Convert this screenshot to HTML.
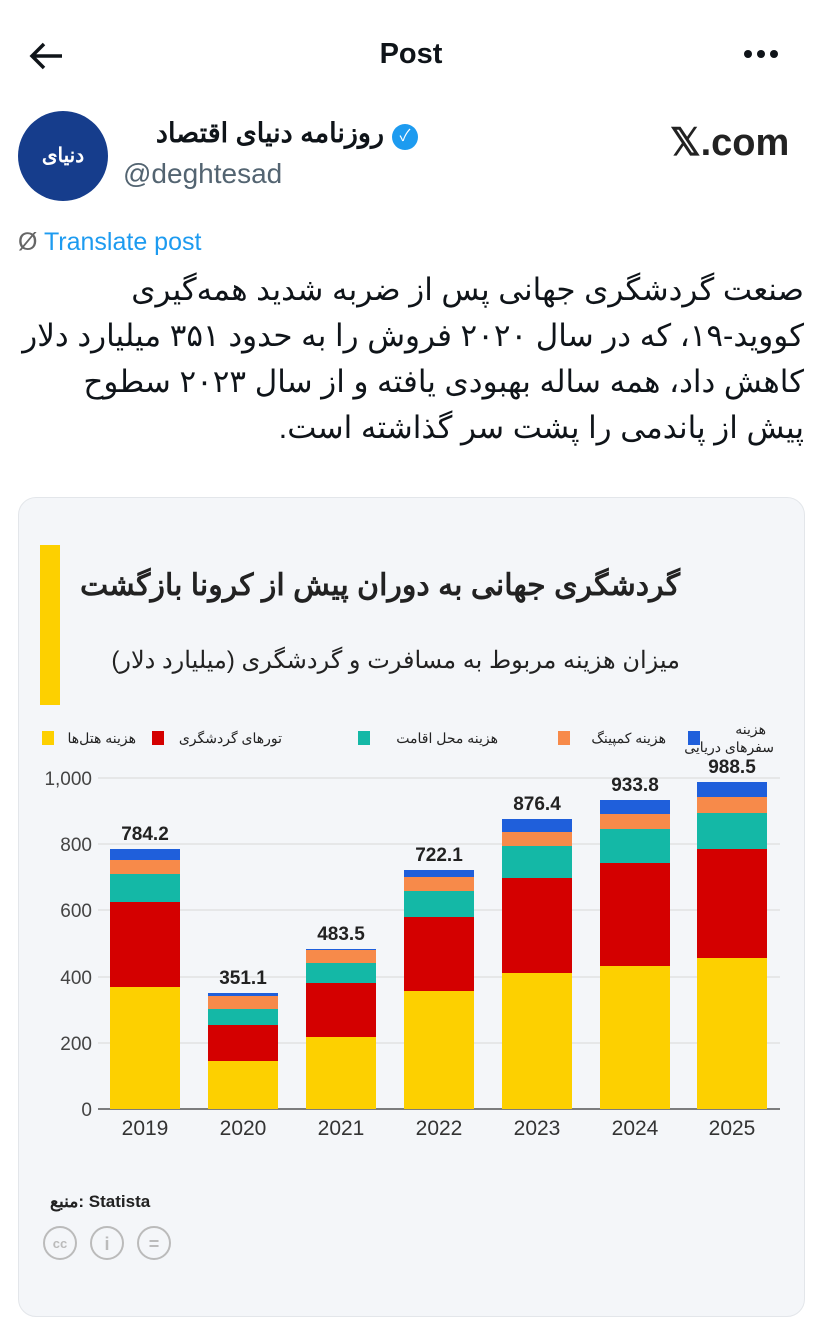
<!DOCTYPE html>
<html><head><meta charset="utf-8"><style>
*{margin:0;padding:0;box-sizing:border-box}
body{width:822px;height:1280px;background:#fff;position:relative;overflow:hidden;font-family:"Liberation Sans","Noto Sans CJK SC",sans-serif;color:#0f1419}
.a{position:absolute}
.l{position:absolute;right:18px;font-size:31px;white-space:nowrap;direction:rtl}
</style></head><body>
<svg class="a" style="left:28px;top:40px" width="40" height="32"><path d="M34 16H4M16 4L4 16L16 28" stroke="#0f1419" stroke-width="3.5" fill="none"/></svg>
<div class="a" style="left:0;width:822px;top:38px;text-align:center;font-size:29px;font-weight:bold">Post</div>
<svg class="a" style="left:742px;top:48px" width="40" height="12"><circle cx="6" cy="6" r="4" fill="#0f1419"/><circle cx="19" cy="6" r="4" fill="#0f1419"/><circle cx="32" cy="6" r="4" fill="#0f1419"/></svg>
<div class="a" style="left:18px;top:111px;width:90px;height:90px;border-radius:50%;background:#163d8c;color:#fff;font-size:20px;font-weight:bold;text-align:center;line-height:90px" dir="rtl">دنیای اقتصاد</div>
<div class="a" style="left:124px;top:118px;font-size:27px;font-weight:bold;direction:rtl;width:260px;text-align:right">روزنامه دنیای اقتصاد</div>
<div class="a" style="left:392px;top:124px;width:26px;height:26px;border-radius:50%;background:#1d9bf0;color:#fff;font-size:16px;text-align:center;line-height:26px">✓</div>
<div class="a" style="left:123px;top:158px;font-size:28px;color:#536471">@deghtesad</div>
<div class="a" style="left:670px;top:120px;font-size:38px;font-weight:bold;color:#222">𝕏.com</div>
<div class="a" style="left:18px;top:228px;font-size:25px;color:#1d9bf0"><span style="color:#666">Ø</span> Translate post</div>
<div class="l" style="top:272px">صنعت گردشگری جهانی پس از ضربه شدید همه‌گیری</div>
<div class="l" style="top:318px">کووید-۱۹، که در سال ۲۰۲۰ فروش را به حدود ۳۵۱ میلیارد دلار</div>
<div class="l" style="top:364px">کاهش داد، همه ساله بهبودی یافته و از سال ۲۰۲۳ سطوح</div>
<div class="l" style="top:410px">پیش از پاندمی را پشت سر گذاشته است.</div>
<div class="a" style="left:18px;top:497px;width:787px;height:820px;border-radius:18px;background:#f4f6f9;border:1px solid #e3e6ea"></div>
<div class="a" style="left:40px;top:545px;width:20px;height:160px;background:#fdd000"></div>
<div class="a" dir="rtl" style="left:70px;top:568px;width:610px;font-size:30px;font-weight:bold;text-align:right;color:#222;white-space:nowrap">گردشگری جهانی به دوران پیش از کرونا بازگشت</div>
<div class="a" dir="rtl" style="left:70px;top:646px;width:610px;font-size:24px;text-align:right;color:#222;white-space:nowrap">میزان هزینه مربوط به مسافرت و گردشگری (میلیارد دلار)</div>
<svg class="a" style="left:0;top:0" width="822" height="1280">
<g font-family="Liberation Sans, Noto Sans CJK SC, sans-serif" font-size="14" fill="#222" text-anchor="end">
<rect x="42" y="731" width="12" height="14" fill="#fdd000"/><text x="136" y="743">هزینه هتل‌ها</text>
<rect x="152" y="731" width="12" height="14" fill="#d40000"/><text x="282" y="743">تورهای گردشگری</text>
<rect x="358" y="731" width="12" height="14" fill="#14b8a6"/><text x="498" y="743">هزینه محل اقامت</text>
<rect x="558" y="731" width="12" height="14" fill="#f78a4a"/><text x="666" y="743">هزینه کمپینگ</text>
<rect x="688" y="731" width="12" height="14" fill="#1f5fdb"/><text x="766" y="734">هزینه</text><text x="774" y="752">سفرهای دریایی</text>
</g>
<g stroke="#d8d8d8" stroke-width="1">
<line x1="98" y1="778" x2="780" y2="778"/><line x1="98" y1="844" x2="780" y2="844"/><line x1="98" y1="910" x2="780" y2="910"/><line x1="98" y1="977" x2="780" y2="977"/><line x1="98" y1="1043" x2="780" y2="1043"/>
</g>
<line x1="98" y1="1109" x2="780" y2="1109" stroke="#555" stroke-width="1.5"/>
<g font-family="Liberation Sans, sans-serif" font-size="19" fill="#444" text-anchor="end">
<text x="92" y="785">1,000</text><text x="92" y="851">800</text><text x="92" y="917">600</text><text x="92" y="984">400</text><text x="92" y="1050">200</text><text x="92" y="1116">0</text>
</g>
<g id="bars"></g>
<g font-family="Liberation Sans, sans-serif" font-size="21" fill="#333" text-anchor="middle">
<text x="145" y="1135">2019</text><text x="243" y="1135">2020</text><text x="341" y="1135">2021</text><text x="439" y="1135">2022</text><text x="537" y="1135">2023</text><text x="635" y="1135">2024</text><text x="732" y="1135">2025</text>
</g>
<g font-family="Liberation Sans, sans-serif" font-size="19" font-weight="bold" fill="#222" text-anchor="middle">
<text x="145" y="840">784.2</text><text x="243" y="984">351.1</text><text x="341" y="940">483.5</text><text x="439" y="861">722.1</text><text x="537" y="810">876.4</text><text x="635" y="791">933.8</text><text x="732" y="773">988.5</text>
</g>
<text x="50" y="1207" font-family="Liberation Sans, sans-serif" font-size="17" font-weight="bold" fill="#222">منبع: Statista</text>
<g fill="none" stroke="#bbb" stroke-width="2"><circle cx="60" cy="1243" r="16"/><circle cx="107" cy="1243" r="16"/><circle cx="154" cy="1243" r="16"/></g>
<g font-family="Liberation Sans, sans-serif" font-size="13" fill="#bbb" text-anchor="middle" font-weight="bold"><text x="60" y="1248">cc</text><text x="107" y="1250" font-size="18">i</text><text x="154" y="1250" font-size="18">=</text></g>
</svg>
<script>
var d=[[110,987,902,874,860,849],[208,1061,1025,1009,996,993],[306,1037,983,963,950,949],[404,991,917,891,877,870],[502,973,878,846,832,819],[600,966,863,829,814,800],[697,958,849,813,797,782]];
var c=["#fdd000","#d40000","#14b8a6","#f78a4a","#1f5fdb"],s="";
d.forEach(function(b){var prev=1109;for(var i=0;i<5;i++){var t=b[i+1];s+='<rect x="'+b[0]+'" y="'+t+'" width="70" height="'+(prev-t)+'" fill="'+c[i]+'"/>';prev=t;}});
document.getElementById("bars").innerHTML=s;
</script>
</body></html>
